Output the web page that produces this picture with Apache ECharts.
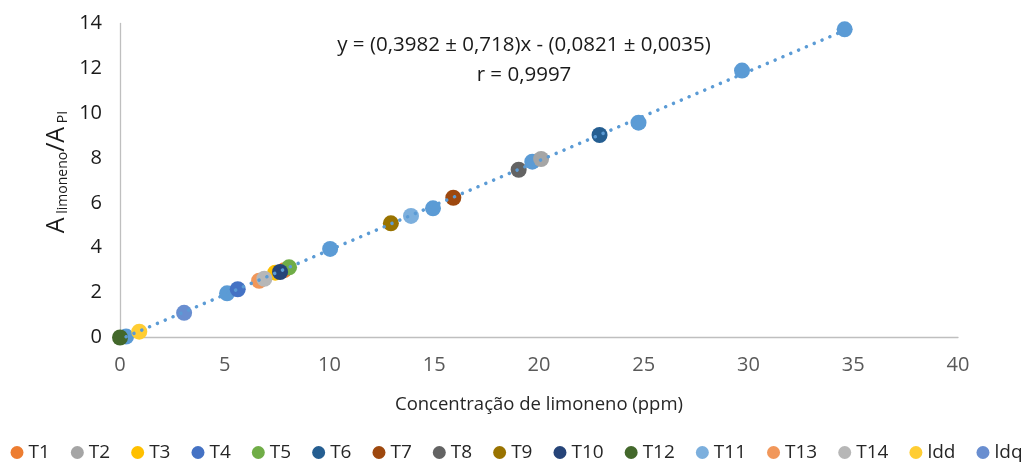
<!DOCTYPE html>
<html>
<head>
<meta charset="utf-8">
<script src="https://cdn.jsdelivr.net/npm/echarts@6/dist/echarts.min.js"></script>
<style>
  html, body { margin: 0; padding: 0; background: #ffffff; }
  #chart { width: 1022px; height: 468px; }
</style>
</head>
<body>
<div id="chart"></div>
<script>
// Calibration standards (limonene, ppm) and their area ratios
const calX = [0.29, 5.11, 10.03, 14.94, 19.68, 24.75, 29.69, 34.59];
const calY = [0.04, 1.97, 3.95, 5.76, 7.84, 9.58, 11.9, 13.74];

// Samples and limits, in legend order
const sampleNames = ['T1', 'T2', 'T3', 'T4', 'T5', 'T6', 'T7', 'T8', 'T9', 'T10', 'T12', 'T11', 'T13', 'T14', 'ldd', 'ldq'];
const sampleX = [7.84, 20.1, 7.41, 5.62, 8.07, 22.89, 15.91, 19.03, 12.93, 7.64, 0.0, 13.89, 6.64, 6.89, 0.92, 3.06];
const sampleY = [3.0, 7.96, 2.89, 2.15, 3.13, 9.03, 6.23, 7.48, 5.09, 2.92, 0.0, 5.42, 2.53, 2.62, 0.26, 1.1];
const sampleColors = ['#ED7D31', '#A5A5A5', '#FFC000', '#4472C4', '#70AD47', '#255E91', '#9E480E', '#636363',
                      '#997300', '#264478', '#43682B', '#7CAFDD', '#F1975A', '#B7B7B7', '#FFCD33', '#698ED0'];

// Regression line coefficients
const slope = 0.3982;
const intercept = -0.0821;

const xTicks = [0, 5, 10, 15, 20, 25, 30, 35, 40];
const yTicks = [0, 2, 4, 6, 8, 10, 12, 14];

const FONT = '"Open Sans"';

const xMin = Math.min(...calX), xMax = Math.max(...calX);
const fitLine = [[xMin, slope * xMin + intercept], [xMax, slope * xMax + intercept]];

const series = [{
  name: 'Padrões',
  type: 'scatter',
  symbolSize: 16,
  itemStyle: { color: '#5B9BD5', opacity: 1 },
  data: calX.map((x, i) => [x, calY[i]]),
  z: 2
}];
sampleNames.forEach((n, i) => {
  series.push({
    name: n,
    type: 'scatter',
    symbolSize: 16,
    itemStyle: { color: sampleColors[i], opacity: 1 },
    data: [[sampleX[i], sampleY[i]]],
    z: 3
  });
});
series.push({
  name: 'Linear',
  type: 'line',
  data: fitLine,
  symbol: 'none',
  silent: true,
  lineStyle: { color: '#5B9BD5', width: 3.5, type: [0.1, 8.4], cap: 'round' },
  z: 5
});

const chart = echarts.init(document.getElementById('chart'), null, { renderer: 'canvas' });
chart.setOption({
  animation: false,
  backgroundColor: '#ffffff',
  textStyle: { fontFamily: FONT },
  grid: { left: 120, right: 64, top: 23.5, bottom: 130.5, containLabel: false },
  xAxis: {
    type: 'value',
    min: xTicks[0], max: xTicks[xTicks.length - 1], interval: 5,
    axisLine: { show: true, lineStyle: { color: '#BFBFBF', width: 1.3 } },
    axisTick: { show: false },
    splitLine: { show: false },
    axisLabel: { color: '#595959', fontSize: 20, fontFamily: FONT, margin: 18 },
    name: 'Concentração de limoneno (ppm)',
    nameLocation: 'middle',
    nameGap: 58,
    nameTextStyle: { color: '#262626', fontSize: 18.5, fontFamily: FONT }
  },
  yAxis: {
    type: 'value',
    min: yTicks[0], max: yTicks[yTicks.length - 1], interval: 2,
    axisLine: { show: true, lineStyle: { color: '#BFBFBF', width: 1.3 } },
    axisTick: { show: false },
    splitLine: { show: false },
    axisLabel: { color: '#1a1a1a', fontSize: 20, fontFamily: FONT, margin: 18 }
  },
  legend: {
    data: sampleNames,
    left: 10.5,
    top: 443,
    padding: 0,
    width: 2000,
    orient: 'horizontal',
    icon: 'circle',
    itemWidth: 13,
    itemHeight: 13,
    itemGap: 21,
    textStyle: { color: '#262626', fontSize: 19, fontFamily: FONT }
  },
  graphic: [
    {
      type: 'text',
      x: 524, y: 60,
      style: {
        text: 'y = (0,3982 ± 0,718)x - (0,0821 ± 0,0035)\nr = 0,9997',
        fill: '#1a1a1a',
        font: '20.5px ' + FONT,
        align: 'center',
        verticalAlign: 'middle',
        lineHeight: 30
      },
      z: 10
    },
    {
      type: 'text',
      x: 57, y: 172,
      rotation: Math.PI / 2,
      style: {
        text: '{a|A}{s| limoneno}{a|/A}{s| PI}',
        fill: '#1a1a1a',
        align: 'center',
        verticalAlign: 'middle',
        rich: {
          a: { fontSize: 25, fontFamily: FONT, lineHeight: 26, verticalAlign: 'top', padding: [0, 0, 8, 0], fill: '#1a1a1a' },
          s: { fontSize: 14, fontFamily: FONT, lineHeight: 16, verticalAlign: 'bottom', fill: '#1a1a1a' }
        }
      },
      z: 10
    }
  ],
  series: series
});
</script>
</body>
</html>
